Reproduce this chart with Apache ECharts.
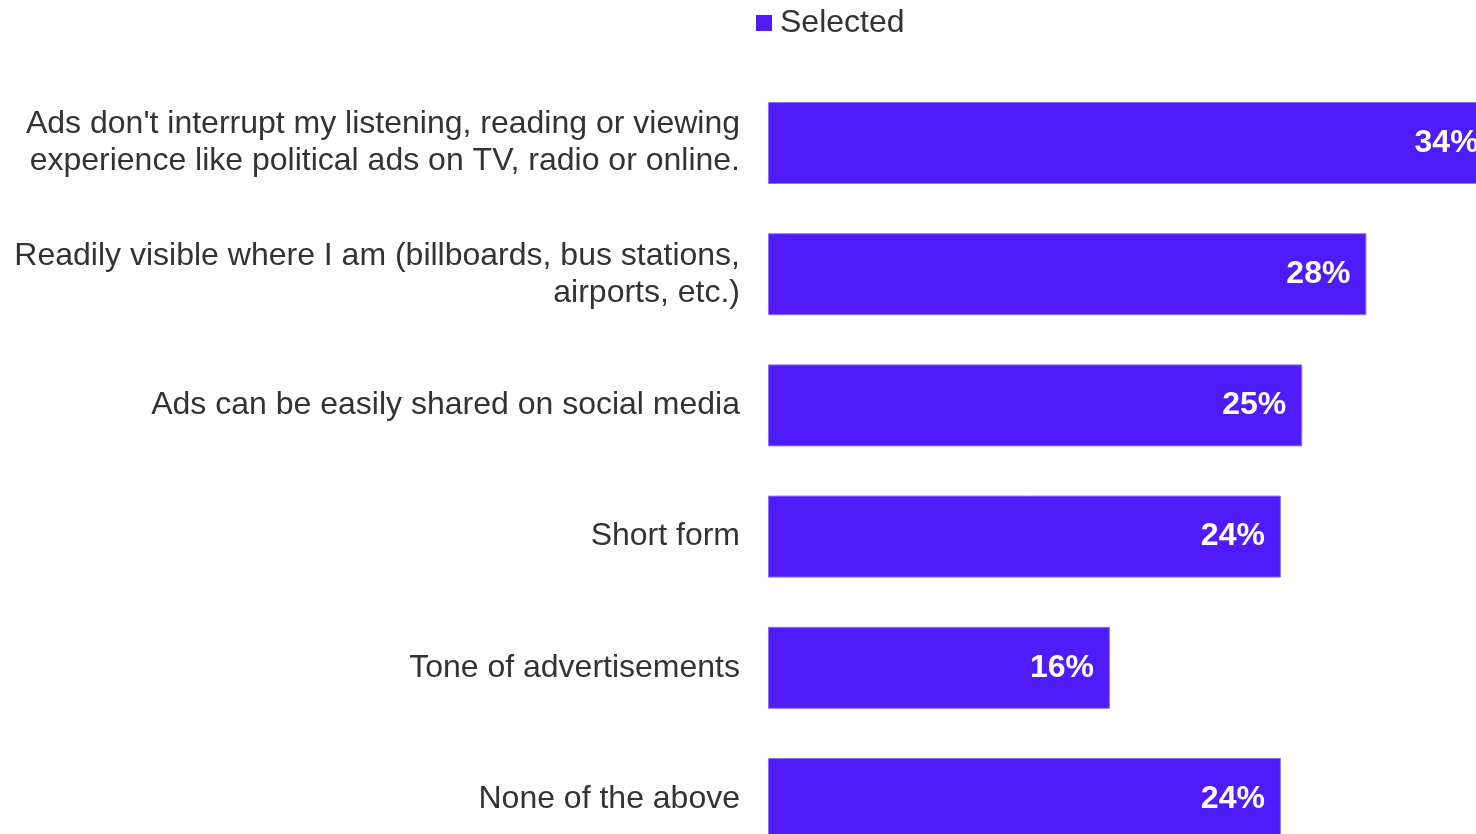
<!DOCTYPE html>
<html>
<head>
<meta charset="utf-8">
<script src="https://cdn.jsdelivr.net/npm/echarts@6/dist/echarts.min.js"></script>
<style>
  html, body { margin: 0; padding: 0; background: #ffffff; overflow: hidden; width: 1476px; height: 834px; }
  /* the chart canvas is larger than the page; its right and bottom edges are cropped */
  #chart { width: 1495px; height: 865px; }
</style>
</head>
<body>
<div id="chart"></div>
<script>
// Reasons respondents chose, share selecting each option (%)
const categories = [
  "Ads don't interrupt my listening, reading or viewing\nexperience like political ads on TV, radio or online.",
  "Readily visible where I am (billboards, bus stations,\nairports, etc.)",
  "Ads can be easily shared on social media",
  "Short form",
  "Tone of advertisements",
  "None of the above"
];
const selectedValues = [34, 28, 25, 24, 16, 24];
const seriesName = "Selected";

const chart = echarts.init(document.getElementById('chart'), null, { renderer: 'canvas' });

chart.setOption({
  animation: false,
  backgroundColor: '#ffffff',
  textStyle: { fontFamily: 'Liberation Sans, Arial, sans-serif' },
  legend: {
    data: [seriesName],
    left: 756,
    top: 5,
    padding: 0,
    icon: 'rect',
    itemWidth: 16,
    itemHeight: 16,
    itemGap: 10,
    itemStyle: { borderWidth: 0 },
    textStyle: {
      fontSize: 32,
      color: '#333333',
      lineHeight: 36,
      padding: [0, 0, 0, 3]
    }
  },
  grid: {
    left: 768,
    top: 77.4,
    right: 0.4,
    bottom: 0.4,
    containLabel: false
  },
  xAxis: {
    type: 'value',
    min: 0,
    max: 34,
    show: false
  },
  yAxis: {
    type: 'category',
    data: categories,
    inverse: true,
    axisLine: { show: false },
    axisTick: { show: false },
    splitLine: { show: false },
    axisLabel: {
      margin: 28,
      fontSize: 32,
      lineHeight: 37,
      color: '#333333',
      align: 'right',
      padding: [5, 0, 0, 0]
    }
  },
  series: [{
    name: seriesName,
    type: 'bar',
    data: selectedValues,
    barWidth: 82,
    itemStyle: {
      color: '#501BFA',
      borderColor: '#8C74F4',
      borderWidth: 1
    },
    label: {
      show: true,
      position: 'insideRight',
      distance: 16,
      formatter: '{c}%',
      color: '#ffffff',
      fontSize: 32,
      fontWeight: 'bold',
      padding: [5, 0, 0, 0]
    }
  }]
});
</script>
</body>
</html>
